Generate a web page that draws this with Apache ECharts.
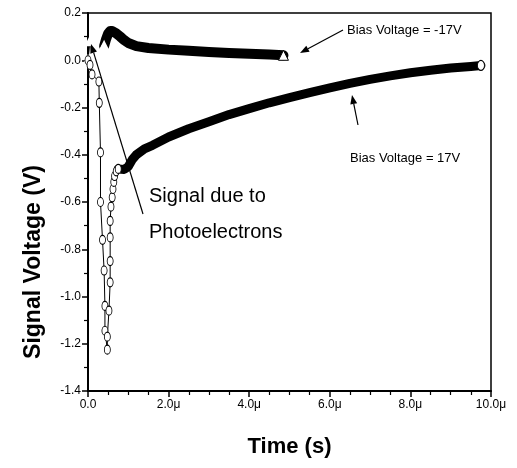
<!DOCTYPE html>
<html>
<head>
<meta charset="utf-8">
<script src="https://cdn.jsdelivr.net/npm/echarts@6/dist/echarts.min.js"></script>
<style>
  html, body { margin: 0; padding: 0; background: #fff; }
  #chart { width: 517px; height: 468px; }
</style>
</head>
<body>
<div id="chart"></div>
<script>
// Time axis in microseconds, voltage in volts
const xTicks = [0, 2, 4, 6, 8, 10];
const xTickLabels = ['0.0', '2.0μ', '4.0μ', '6.0μ', '8.0μ', '10.0μ'];
const yTicks = [0.2, 0.0, -0.2, -0.4, -0.6, -0.8, -1.0, -1.2, -1.4];
const yTickLabels = ['0.2', '0.0', '-0.2', '-0.4', '-0.6', '-0.8', '-1.0', '-1.2', '-1.4'];

// Bias -17 V trace: sparse start, then densely sampled decay
const negBiasStart = [[0, 0], [0.05, 0.08], [0.1, 0.02], [0.17, -0.01], [0.25, 0.0], [0.3, 0.015], [0.35, 0.04], [0.4, 0.06]];
const negBiasTrace = [[0.4, 0.06], [0.45, 0.09], [0.5, 0.113], [0.55, 0.124], [0.6, 0.124], [0.7, 0.114], [0.8, 0.1], [0.9, 0.085], [1.0, 0.073], [1.2, 0.06], [1.5, 0.052], [2.0, 0.045], [2.5, 0.04], [3.0, 0.035], [3.5, 0.031], [4.0, 0.028], [4.5, 0.024], [4.85, 0.021]];

// Bias +17 V trace: photoelectron dip, then slow recovery
const posBiasStart = [[0, 0], [0.05, -0.02], [0.1, -0.06], [0.27, -0.09], [0.28, -0.18], [0.31, -0.39], [0.31, -0.6], [0.36, -0.76], [0.4, -0.89], [0.42, -1.04], [0.42, -1.145], [0.48, -1.225], [0.48, -1.17], [0.52, -1.06], [0.55, -0.94], [0.55, -0.85], [0.55, -0.75], [0.55, -0.68], [0.57, -0.62], [0.6, -0.58], [0.62, -0.545], [0.64, -0.515], [0.66, -0.49], [0.7, -0.47], [0.75, -0.46]];
const posBiasTrace = [[0.75, -0.46], [0.9, -0.462], [1.0, -0.45], [1.1, -0.42], [1.2, -0.4], [1.4, -0.375], [1.6, -0.36], [2.0, -0.325], [2.5, -0.29], [3.0, -0.26], [3.5, -0.23], [4.0, -0.205], [4.5, -0.18], [5.0, -0.158], [5.5, -0.137], [6.0, -0.117], [6.5, -0.098], [7.0, -0.081], [7.5, -0.066], [8.0, -0.053], [8.5, -0.042], [9.0, -0.033], [9.5, -0.026], [9.75, -0.022]];

const FONT = "'Liberation Sans', Arial, sans-serif";

function labelFor(ticks, labels, v) {
  for (let i = 0; i < ticks.length; i++) {
    if (Math.abs(ticks[i] - v) < 1e-6) return labels[i];
  }
  return '';
}

// Mark only the last point of a dense trace
function withEndMarker(arr) {
  return arr.map((p, i) => i === arr.length - 1 ? { value: p } : { value: p, symbol: 'none' });
}

function arrow(x1, y1, x2, y2, head) {
  const ang = Math.atan2(y2 - y1, x2 - x1);
  const h = head || 9, w = 3.5;
  const bx = x2 - h * Math.cos(ang), by = y2 - h * Math.sin(ang);
  const px = -Math.sin(ang) * w, py = Math.cos(ang) * w;
  return [
    { type: 'line', shape: { x1: x1, y1: y1, x2: bx, y2: by }, style: { stroke: '#000', lineWidth: 1.2 }, z: 100 },
    { type: 'polygon', shape: { points: [[x2, y2], [bx + px, by + py], [bx - px, by - py]] }, style: { fill: '#000' }, z: 100 }
  ];
}

const chart = echarts.init(document.getElementById('chart'), null, { renderer: 'canvas' });

chart.setOption({
  animation: false,
  backgroundColor: '#fff',
  grid: { left: 88, right: 26, top: 13, bottom: 77, show: true, borderColor: '#000', borderWidth: 1.5 },
  xAxis: {
    type: 'value', min: 0, max: 10, interval: 2,
    name: 'Time (s)', nameLocation: 'middle', nameGap: 45,
    nameTextStyle: { fontFamily: FONT, fontSize: 22, fontWeight: 'bold', color: '#000' },
    axisLine: { show: true, onZero: false, lineStyle: { color: '#000', width: 2 } },
    axisTick: { show: true, length: 6, lineStyle: { color: '#000', width: 1.5 } },
    minorTick: { show: true, splitNumber: 4, length: 4, lineStyle: { color: '#000', width: 1.2 } },
    splitLine: { show: false },
    axisLabel: { fontFamily: FONT, fontSize: 12, color: '#000', margin: 8,
      formatter: v => labelFor(xTicks, xTickLabels, v) }
  },
  yAxis: {
    type: 'value', min: -1.4, max: 0.2, interval: 0.2,
    axisLine: { show: true, onZero: false, lineStyle: { color: '#000', width: 2 } },
    axisTick: { show: true, length: 6, lineStyle: { color: '#000', width: 1.5 } },
    minorTick: { show: true, splitNumber: 2, length: 4, lineStyle: { color: '#000', width: 1.2 } },
    splitLine: { show: false },
    axisLabel: { fontFamily: FONT, fontSize: 12, color: '#000', margin: 7,
      formatter: v => labelFor(yTicks, yTickLabels, Math.round(v * 10) / 10) }
  },
  series: [
    {
      name: 'Bias -17V start', type: 'line', data: negBiasStart,
      symbol: 'emptyTriangle', symbolSize: 8,
      lineStyle: { color: '#000', width: 1 },
      itemStyle: { color: '#fff', borderColor: '#000', borderWidth: 1 }, z: 3
    },
    {
      name: 'Bias -17V', type: 'line', data: withEndMarker(negBiasTrace),
      symbol: 'triangle', symbolSize: 10, showAllSymbol: true,
      lineStyle: { color: '#000', width: 10, cap: 'round', join: 'round' },
      itemStyle: { color: '#fff', borderColor: '#000', borderWidth: 1 }, z: 2
    },
    {
      name: 'Bias 17V start', type: 'line', data: posBiasStart,
      symbol: 'circle', symbolSize: [6, 9], showAllSymbol: true,
      lineStyle: { color: '#000', width: 1 },
      itemStyle: { color: '#fff', borderColor: '#000', borderWidth: 1 }, z: 3
    },
    {
      name: 'Bias 17V', type: 'line', data: withEndMarker(posBiasTrace),
      symbol: 'circle', symbolSize: [7, 10], showAllSymbol: true,
      lineStyle: { color: '#000', width: 9, cap: 'round', join: 'round' },
      itemStyle: { color: '#fff', borderColor: '#000', borderWidth: 1 }, z: 2
    }
  ],
  graphic: [
    { type: 'text', x: 34, y: 262, rotation: Math.PI / 2, z: 100,
      style: { text: 'Signal Voltage (V)', font: 'bold 23px ' + FONT, fill: '#000', align: 'center', verticalAlign: 'middle' } },
    { type: 'text', left: 347, top: 24, z: 100,
      style: { text: 'Bias Voltage = -17V', font: '13px ' + FONT, fill: '#000' } },
    { type: 'text', left: 350, top: 152, z: 100,
      style: { text: 'Bias Voltage = 17V', font: '13px ' + FONT, fill: '#000' } },
    { type: 'text', left: 149, top: 186, z: 100,
      style: { text: 'Signal due to', font: '20px ' + FONT, fill: '#000' } },
    { type: 'text', left: 149, top: 222, z: 100,
      style: { text: 'Photoelectrons', font: '20px ' + FONT, fill: '#000' } }
  ].concat(arrow(343, 30, 300, 53)).concat(arrow(358, 125, 352, 95)).concat(arrow(143, 214, 91, 44))
});
</script>
</body>
</html>
